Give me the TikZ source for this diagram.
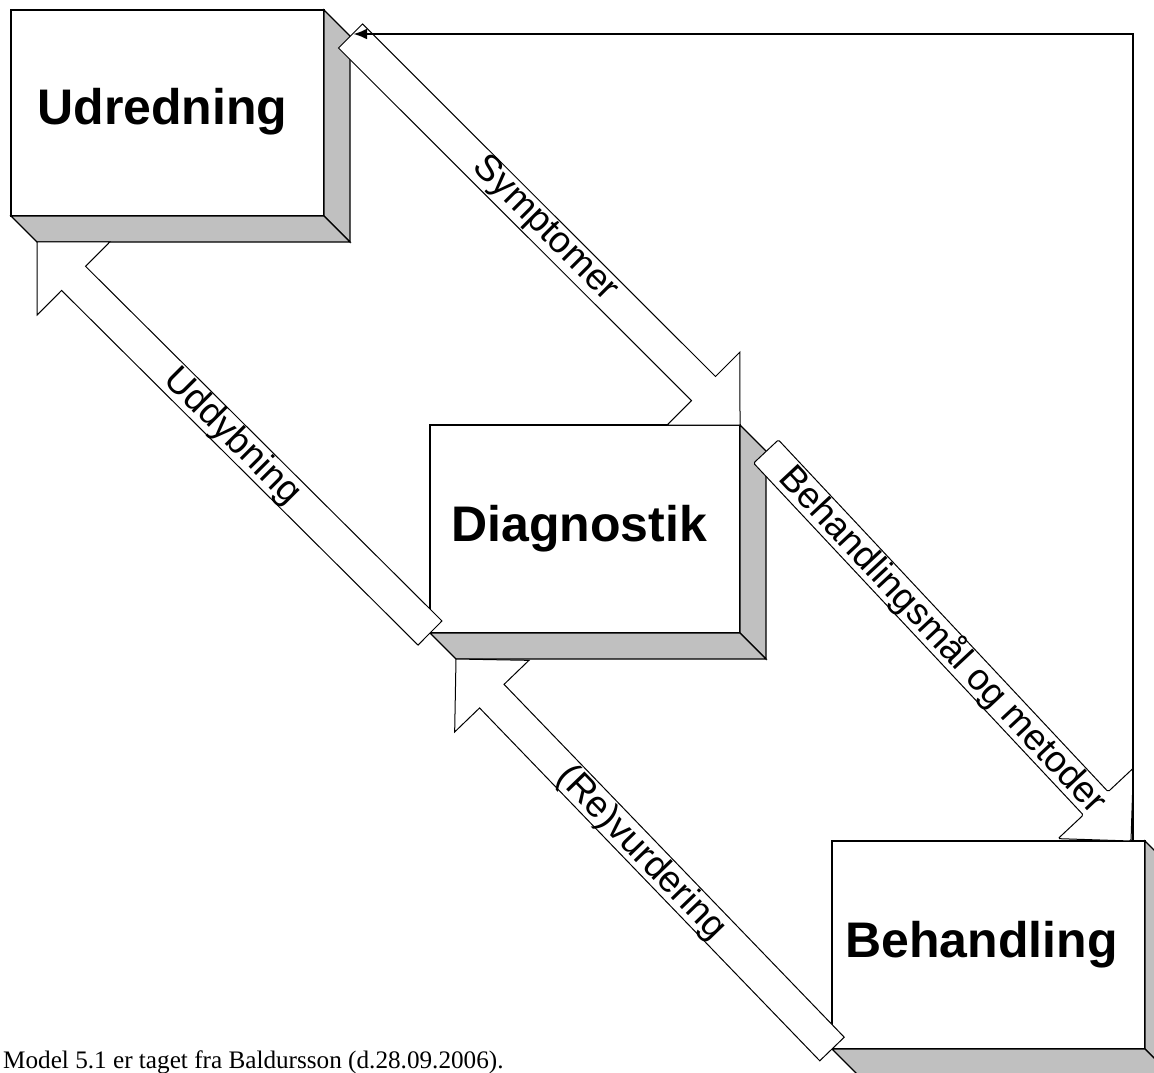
\documentclass[tikz,border=0pt]{standalone}
\usepackage{fontspec}
\setmainfont{Liberation Sans}
\newfontfamily\captionserif{Liberation Serif}
\usetikzlibrary{calc,arrows.meta}

\definecolor{slabgrey}{RGB}{192,192,192}

\tikzset{
  front/.style={draw=black, fill=white, line width=1.2pt, inner sep=0pt, outer sep=0pt},
  boxtitle/.style={font=\fontsize{50}{58}\selectfont\bfseries, inner sep=0pt},
  side/.style={draw=black, fill=slabgrey, line width=1.2pt, line join=miter},
  fatarrow/.style={draw=black, fill=white, line width=1pt, line join=miter},
  flowlabel/.style={font=\fontsize{37}{42}\selectfont, inner sep=0pt},
  feedback/.style={line width=2.8pt, -{Latex[length=14pt,width=11pt]}},
}

% grey right and bottom faces of a raised box
\newcommand{\slabfaces}[1]{%
  \draw[side] (#1.north east) -- ++(26,26) -- ($(#1.south east)+(26,26)$) -- (#1.south east) -- cycle;
  \draw[side] (#1.south west) -- ++(26,26) -- ($(#1.south east)+(26,26)$) -- (#1.south east) -- cycle;
}

% hollow block arrow from tail centre #2 to tip #3, #1 extra options
\newcommand{\blockarrow}[3][]{%
  \coordinate (hb) at ($(#3)!51.6pt!(#2)$);
  \draw[fatarrow,#1] ($(#2)!17pt!90:(#3)$) -- ($(hb)!17pt!90:(#3)$) -- ($(hb)!51.6pt!90:(#3)$)
    -- (#3) -- ($(hb)!51.6pt!-90:(#3)$) -- ($(hb)!17pt!-90:(#3)$) -- ($(#2)!17pt!-90:(#3)$) -- cycle;
}

\begin{document}
\begin{tikzpicture}[x=1pt,y=-1pt]
\useasboundingbox (0,0) rectangle (1154,1073);
\clip (0,0) rectangle (1154,1073);

% the three stages
\node[front, minimum width=313pt, minimum height=206pt] (udr) at (167.5,113) {};
\slabfaces{udr}
\node[front, minimum width=310pt, minimum height=208pt] (dia) at (585,529) {};
\slabfaces{dia}
\node[front, minimum width=313pt, minimum height=208pt] (beh) at (988.5,945) {};
\slabfaces{beh}

\node[boxtitle] (udrtitle) at ($(udr.center)+(-5,-1)$) {Udredning};
\node[boxtitle] (diatitle) at ($(dia.center)+(-6,0)$) {Diagnostik};
\node[boxtitle] (behtitle) at ($(beh.center)+(-7,0)$) {Behandling};

% end points of the block arrows
\coordinate (symtail) at (350.5,36);
\coordinate (symtip) at (dia.north east);
\coordinate (uddtail) at (dia.south west);
\coordinate (uddtip) at ($(udr.south west)+(26,26)$);
\coordinate (revtail) at (beh.south west);
\coordinate (revtip) at ($(dia.south west)+(26,26)$);
\coordinate (behtail) at (766,451.5);
\coordinate (behtip) at (1131,841);

\blockarrow{symtail}{symtip}
\blockarrow{uddtail}{uddtip}
\blockarrow{revtail}{revtip}
\blockarrow[rounded corners=1.5pt]{behtail}{behtip}

% feedback line from Behandling back to Udredning
\coordinate (fbcorner) at (1133,34);
\coordinate (fbend) at (353,34);
\draw[feedback] (beh.north -| fbcorner) -- (fbcorner) -- (fbend);

% arrow labels
\node[flowlabel, rotate=-45] (lsym) at (545,229) {Symptomer};
\node[flowlabel, rotate=-45] (ludd) at (232,437) {Uddybning};
\node[flowlabel, rotate=-45.9] (lrev) at (641,853) {(Re)vurdering};
\node[flowlabel, rotate=-46.9] (lbeh) at (943,640) {Behandlingsmål og metoder};

\node[anchor=base west, inner sep=0pt, font=\captionserif\fontsize{25.2}{28}\selectfont] (cap) at (3,1068)
  {Model 5.1 er taget fra Baldursson (d.28.09.2006).};
\end{tikzpicture}
\end{document}
